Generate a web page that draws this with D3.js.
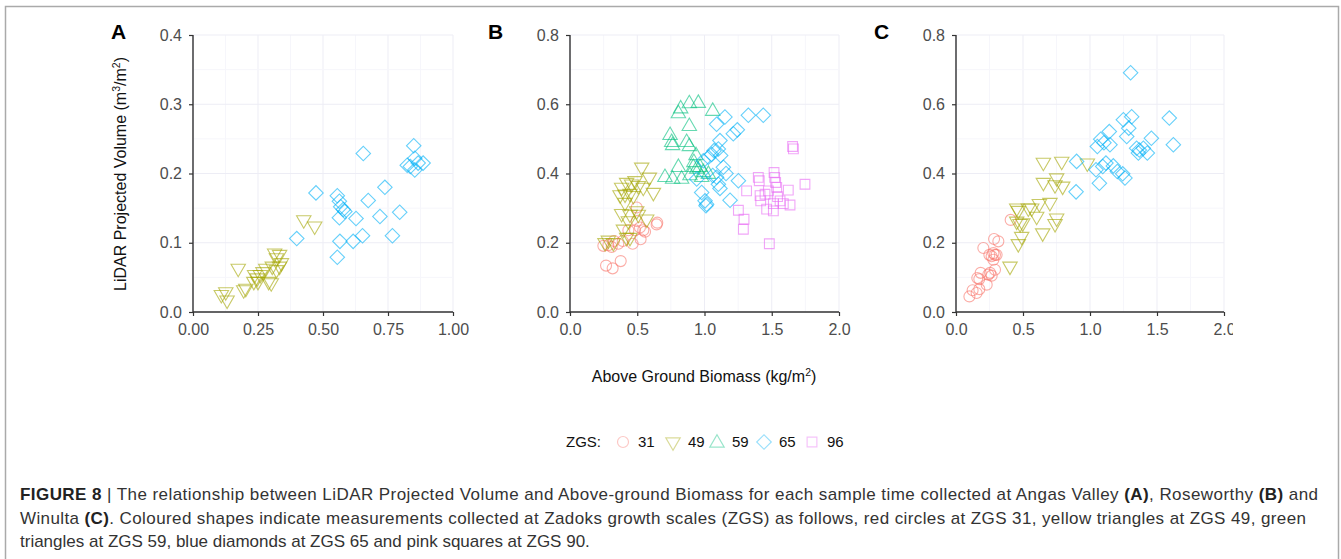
<!DOCTYPE html>
<html>
<head>
<meta charset="utf-8">
<script src="https://cdn.jsdelivr.net/npm/d3@7"></script>
<style>
  body { margin: 0; background: #fff; }
  svg { display: block; font-family: "Liberation Sans", Arial, sans-serif; }
</style>
</head>
<body>
<div id="chart-area"></div>
<script>
// ZGS stages and colours
var stages = ["31", "49", "59", "65", "96"];
var colors = ["#F8766D", "#A3A500", "#00BF7D", "#00B0F6", "#E76BF3"];

// Panel A - Angas Valley  [biomass, volume]
var A49 = [[0.109,0.025],[0.131,0.017],[0.126,0.029],[0.174,0.063],[0.195,0.032],[0.203,0.034],
  [0.237,0.054],[0.247,0.049],[0.250,0.044],[0.259,0.054],[0.269,0.058],[0.280,0.063],[0.301,0.042],
  [0.305,0.066],[0.314,0.085],[0.321,0.078],[0.321,0.061],[0.333,0.066],[0.340,0.071],[0.333,0.083],
  [0.426,0.133],[0.468,0.124],[0.234,0.044],[0.291,0.044]];
var A65 = [[0.399,0.106],[0.473,0.172],[0.555,0.168],[0.563,0.160],[0.568,0.152],[0.578,0.148],
  [0.563,0.136],[0.584,0.145],[0.565,0.102],[0.555,0.079],[0.616,0.102],[0.627,0.135],[0.652,0.110],
  [0.655,0.229],[0.674,0.161],[0.719,0.138],[0.738,0.180],[0.767,0.110],[0.795,0.144],[0.824,0.212],
  [0.836,0.210],[0.849,0.240],[0.853,0.222],[0.853,0.205],[0.866,0.215],[0.885,0.215]];

// Panel B - Roseworthy
var B31 = [[0.268,0.134],[0.317,0.126],[0.377,0.147],[0.248,0.191],[0.285,0.193],[0.310,0.188],
  [0.327,0.205],[0.359,0.197],[0.392,0.205],[0.434,0.236],[0.466,0.197],[0.483,0.236],[0.496,0.302],
  [0.520,0.244],[0.525,0.210],[0.545,0.236],[0.558,0.232],[0.496,0.263],[0.649,0.258],[0.644,0.253]];
var B49 = [[0.285,0.207],[0.260,0.200],[0.322,0.200],[0.372,0.338],[0.409,0.340],[0.384,0.360],
  [0.421,0.374],[0.446,0.342],[0.458,0.369],[0.409,0.316],[0.471,0.336],[0.483,0.379],[0.533,0.418],
  [0.508,0.365],[0.545,0.360],[0.590,0.389],[0.620,0.345],[0.384,0.284],[0.446,0.282],[0.496,0.292],
  [0.434,0.263],[0.397,0.239],[0.446,0.215],[0.508,0.282],[0.570,0.268],[0.421,0.215]];
var B59 = [[0.744,0.510],[0.756,0.490],[0.763,0.481],[0.806,0.573],[0.823,0.587],[0.887,0.602],
  [0.954,0.603],[0.887,0.536],[1.061,0.580],[0.867,0.490],[0.887,0.478],[0.937,0.452],[0.806,0.418],
  [0.763,0.384],[0.706,0.389],[0.830,0.384],[0.892,0.394],[0.917,0.418],[0.942,0.413],[0.967,0.418],
  [0.991,0.403],[0.921,0.432],[1.029,0.398],[0.979,0.389]];
var B65 = [[1.004,0.321],[1.016,0.311],[1.011,0.307],[0.979,0.345],[0.942,0.384],[0.991,0.437],
  [1.029,0.447],[1.053,0.455],[1.071,0.466],[1.103,0.471],[1.120,0.452],[1.140,0.418],[1.090,0.389],
  [1.103,0.369],[1.115,0.357],[1.160,0.400],[1.190,0.323],[1.252,0.379],[1.214,0.515],[1.244,0.526],
  [1.090,0.542],[1.152,0.563],[1.115,0.495],[1.326,0.568],[1.437,0.568],[1.061,0.394]];
var B96 = [[1.252,0.294],[1.294,0.268],[1.289,0.239],[1.313,0.350],[1.400,0.389],[1.407,0.379],
  [1.413,0.336],[1.418,0.321],[1.450,0.340],[1.475,0.350],[1.462,0.297],[1.512,0.292],[1.517,0.403],
  [1.522,0.389],[1.529,0.374],[1.537,0.360],[1.543,0.333],[1.562,0.321],[1.586,0.313],[1.636,0.309],
  [1.623,0.352],[1.655,0.478],[1.661,0.471],[1.747,0.369],[1.482,0.197],[1.512,0.313]];

// Panel C - Winulta
var C31 = [[0.100,0.045],[0.124,0.063],[0.154,0.055],[0.174,0.066],[0.159,0.098],[0.184,0.113],
  [0.174,0.095],[0.204,0.185],[0.229,0.079],[0.241,0.108],[0.254,0.113],[0.266,0.105],[0.291,0.122],
  [0.266,0.161],[0.279,0.170],[0.291,0.165],[0.279,0.151],[0.284,0.211],[0.316,0.204],[0.303,0.165],
  [0.408,0.266],[0.249,0.165]];
var C49 = [[0.403,0.132],[0.465,0.197],[0.490,0.218],[0.453,0.262],[0.478,0.255],[0.498,0.257],
  [0.465,0.293],[0.453,0.300],[0.540,0.300],[0.602,0.276],[0.622,0.313],[0.701,0.316],[0.647,0.228],
  [0.652,0.374],[0.652,0.432],[0.751,0.387],[0.739,0.367],[0.796,0.363],[0.789,0.435],[0.980,0.430],
  [0.751,0.271],[0.739,0.255],[0.565,0.300]];
var C65 = [[0.896,0.347],[0.900,0.435],[1.045,0.411],[1.070,0.372],[1.055,0.478],[1.080,0.499],
  [1.104,0.489],[1.144,0.521],[1.149,0.483],[1.095,0.420],[1.119,0.430],[1.174,0.422],[1.204,0.406],
  [1.244,0.399],[1.261,0.387],[1.274,0.507],[1.289,0.531],[1.249,0.555],[1.311,0.564],[1.303,0.691],
  [1.348,0.473],[1.361,0.459],[1.398,0.473],[1.428,0.459],[1.458,0.502],[1.592,0.560],[1.622,0.483],
  [1.368,0.468]];

var aTicksX = [0, 0.25, 0.5, 0.75, 1.0];
var aTicksY = [0, 0.1, 0.2, 0.3, 0.4];
var bcTicksX = [0, 0.5, 1.0, 1.5, 2.0];
var bcTicksY = [0, 0.2, 0.4, 0.6, 0.8];

var panels = [
  { letter: "A", left: 193, xmax: 1.0, ymax: 0.4, xt: aTicksX, yt: aTicksY, xf: d3.format(".2f"),
    series: [[1, A49], [3, A65]] },
  { letter: "B", left: 570, xmax: 2.0, ymax: 0.8, xt: bcTicksX, yt: bcTicksY, xf: d3.format(".1f"),
    series: [[0, B31], [1, B49], [2, B59], [3, B65], [4, B96]] },
  { letter: "C", left: 956, xmax: 2.0, ymax: 0.8, xt: bcTicksX, yt: bcTicksY, xf: d3.format(".1f"),
    series: [[0, C31], [1, C49], [3, C65]] }
];

var W = 1341, H = 559;
var plotTop = 35, plotBottom = 312;
var pw = [260, 269, 268];

var svg = d3.select("#chart-area").append("svg")
  .attr("width", W).attr("height", H);

svg.append("defs").append("clipPath").attr("id", "clipC")
  .append("rect").attr("x", 0).attr("y", 0).attr("width", 1233).attr("height", H);

// frame
svg.append("path")
  .attr("d", "M5.5," + H + "V6.5H1338.5V" + H)
  .attr("fill", "none").attr("stroke", "#aaa").attr("stroke-width", 1.5);

function shapeFor(i, size) {
  var types = [d3.symbolCircle, d3.symbolTriangle, d3.symbolTriangle, d3.symbolSquare, d3.symbolSquare];
  var sizes = [95, 90, 90, 105, 95];
  return d3.symbol().type(types[i]).size(size || sizes[i])();
}
function rotFor(i) {
  return i === 1 ? 180 : (i === 3 ? 45 : 0);
}

panels.forEach(function (p, k) {
  var g = svg.append("g");
  if (p.letter === "C") g.attr("clip-path", "url(#clipC)");

  var x = d3.scaleLinear().domain([0, p.xmax]).range([p.left, p.left + pw[k]]);
  var y = d3.scaleLinear().domain([0, p.ymax]).range([plotBottom, plotTop]);

  // minor + major grid
  var dx = p.xt[1] - p.xt[0], dy = p.yt[1] - p.yt[0];
  var gx = d3.range(0, p.xmax + 1e-9, dx / 2), gy = d3.range(0, p.ymax + 1e-9, dy / 2);
  g.append("g").selectAll("line").data(gx).enter().append("line")
    .attr("x1", function (d) { return x(d); }).attr("x2", function (d) { return x(d); })
    .attr("y1", y(0)).attr("y2", y(p.ymax))
    .attr("stroke", function (d, i) { return i % 2 ? "#f6f6fb" : "#ededf5"; });
  g.append("g").selectAll("line").data(gy).enter().append("line")
    .attr("y1", function (d) { return y(d); }).attr("y2", function (d) { return y(d); })
    .attr("x1", x(0)).attr("x2", x(p.xmax))
    .attr("stroke", function (d, i) { return i % 2 ? "#f6f6fb" : "#ededf5"; });

  // points
  p.series.forEach(function (s) {
    var idx = s[0];
    g.append("g").selectAll("path").data(s[1]).enter().append("path")
      .attr("d", shapeFor(idx))
      .attr("transform", function (d) {
        return "translate(" + x(d[0]) + "," + y(d[1]) + ") rotate(" + rotFor(idx) + ")";
      })
      .attr("fill", "none")
      .attr("stroke", colors[idx])
      .attr("stroke-opacity", 0.6)
      .attr("stroke-width", 1.1);
  });

  // axes
  var xa = g.append("g").attr("transform", "translate(0," + plotBottom + ")")
    .call(d3.axisBottom(x).tickValues(p.xt).tickFormat(p.xf).tickSizeOuter(0).tickSize(4).tickPadding(8));
  var ya = g.append("g").attr("transform", "translate(" + p.left + ",0)")
    .call(d3.axisLeft(y).tickValues(p.yt).tickFormat(d3.format(".1f")).tickSizeOuter(0).tickSize(4).tickPadding(7));
  [xa, ya].forEach(function (a) {
    a.select(".domain").attr("stroke", "#333").attr("stroke-width", 1.4);
    a.selectAll(".tick line").attr("stroke", "#333").attr("stroke-width", 1.2);
    a.selectAll(".tick text").attr("fill", "#4d4d4d").attr("font-size", "16px")
      .attr("font-family", "Liberation Sans, Arial, sans-serif");
  });
  xa.select(".domain").attr("d", "M" + x(0) + ",0H" + x(p.xmax));
  ya.select(".domain").attr("d", "M0," + y(0) + "V" + y(p.ymax));

  g.append("text")
    .attr("x", p.left - 82).attr("y", 39)
    .attr("font-size", "21px").attr("font-weight", "bold")
    .text(p.letter);
});

// axis titles
var yl = svg.append("text")
  .attr("transform", "translate(126,174) rotate(-90)")
  .attr("text-anchor", "middle").attr("font-size", "16px").attr("fill", "#111");
yl.append("tspan").text("LiDAR Projected Volume (m");
yl.append("tspan").attr("font-size", "10.5px").attr("dy", -6).text("3");
yl.append("tspan").attr("dy", 6).text("/m");
yl.append("tspan").attr("font-size", "10.5px").attr("dy", -6).text("2");
yl.append("tspan").attr("dy", 6).text(")");

var xl = svg.append("text")
  .attr("x", 704).attr("y", 382)
  .attr("text-anchor", "middle").attr("font-size", "16px").attr("fill", "#111");
xl.append("tspan").text("Above Ground Biomass (kg/m");
xl.append("tspan").attr("font-size", "10.5px").attr("dy", -6).text("2");
xl.append("tspan").attr("dy", 6).text(")");

// legend
var lg = svg.append("g").attr("transform", "translate(0,442)");
lg.append("text").attr("x", 566).attr("y", 5).attr("font-size", "15px").attr("fill", "#111").text("ZGS:");
var legX = [623, 673, 717, 764, 812];
stages.forEach(function (s, i) {
  lg.append("path").attr("d", shapeFor(i))
    .attr("transform", "translate(" + legX[i] + "," + (i === 2 ? 1 : 0) + ") rotate(" + rotFor(i) + ")")
    .attr("fill", "none").attr("stroke", colors[i]).attr("stroke-opacity", 0.4).attr("stroke-width", 1.2);
  lg.append("text").attr("x", legX[i] + 15).attr("y", 5).attr("font-size", "15px").attr("fill", "#111").text(s);
});

// caption
var lines = [
  [["FIGURE 8", true], [" | The relationship between LiDAR Projected Volume and Above-ground Biomass for each sample time collected at Angas Valley ", false],
   ["(A)", true], [", Roseworthy ", false], ["(B)", true], [" and", false]],
  [["Winulta ", false], ["(C)", true], [". Coloured shapes indicate measurements collected at Zadoks growth scales (ZGS) as follows, red circles at ZGS 31, yellow triangles at ZGS 49, green", false]],
  [["triangles at ZGS 59, blue diamonds at ZGS 65 and pink squares at ZGS 90.", false]]
];
var lineW = [1298, 1286, null];
lines.forEach(function (ln, i) {
  var t = svg.append("text").attr("x", 20).attr("y", 500 + i * 23.5)
    .attr("font-size", "17px").attr("fill", "#333");
  if (lineW[i]) t.attr("textLength", lineW[i]).attr("lengthAdjust", "spacing");
  ln.forEach(function (seg) {
    t.append("tspan").attr("font-weight", seg[1] ? "bold" : null)
      .attr("fill", seg[1] ? "#222" : null).text(seg[0]);
  });
});
</script>
</body>
</html>
